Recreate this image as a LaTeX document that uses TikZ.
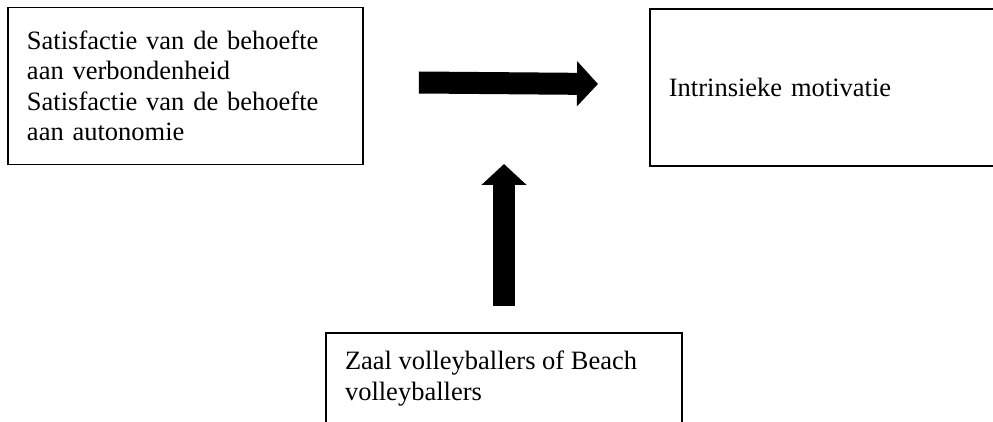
\documentclass[tikz,border=0pt]{standalone}
\usepackage{fontspec}
\setmainfont{Liberation Serif}
\usetikzlibrary{arrows.meta}

\begin{document}
\begin{tikzpicture}[x=1pt,y=-1pt]
\tikzstyle{every node}=[font=\fontsize{26.5}{30.5}\selectfont];
\tikzstyle{box}=[draw,line width=1.8pt,inner xsep=19pt,align=left];
\tikzstyle{fatarrow}=[line width=22pt,-{Triangle[width=44pt,length=21pt]}];
\path[use as bounding box,clip] (0,0) rectangle (993,422);
\node[box,minimum width=355pt,minimum height=157pt,text width=317pt] (sat) at (185.5,86) {Satisfactie van de behoefte\\aan verbondenheid\\Satisfactie van de behoefte\\aan autonomie};
\node[box,anchor=west,minimum width=370pt,minimum height=157pt,text width=332pt] (intr) at (649,87.5) {Intrinsieke motivatie};
\node[box,anchor=north,inner ysep=18pt] (zaal) at (504,332) {\parbox[t][100pt][t]{318pt}{Zaal volleyballers of Beach\\volleyballers}};
\coordinate (vtip) at (504,164);
\draw[fatarrow] ([xshift=55pt,yshift=3.5pt]sat.east) -- ([xshift=-51pt,yshift=3.5pt]intr.west);
\draw[fatarrow] ([yshift=26pt]zaal.north) -- (vtip);
\end{tikzpicture}
\end{document}
